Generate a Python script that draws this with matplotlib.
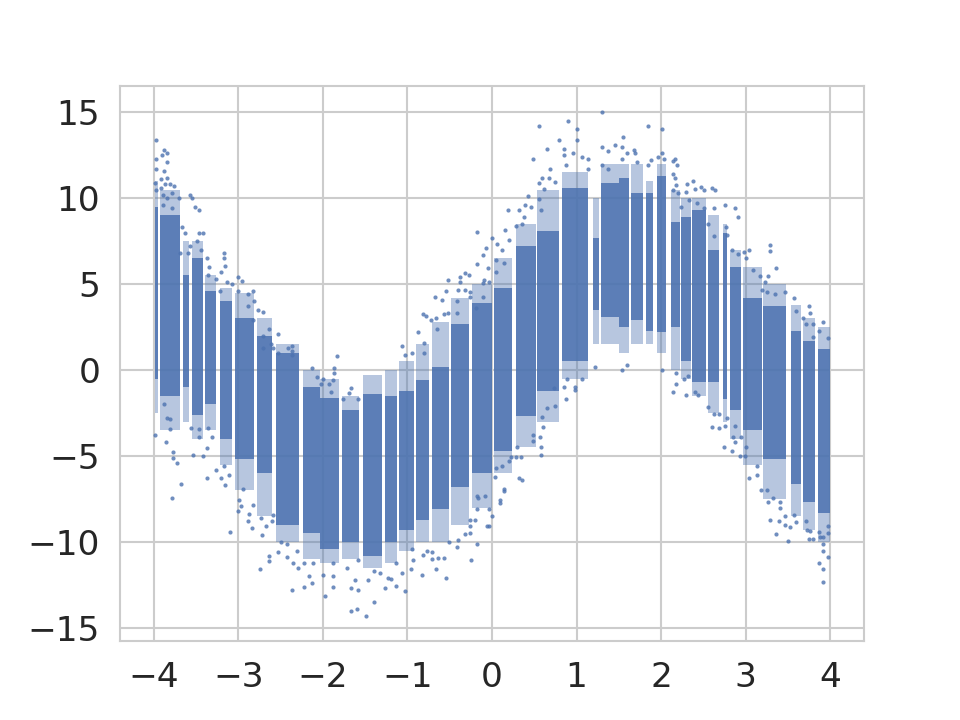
import matplotlib
matplotlib.use("Agg")
import matplotlib.pyplot as plt
import seaborn as sns

# dense vertical bands, too packed to read dot by dot: x extent and y extent of each
band_left = [-3.99, -3.93, -3.66, -3.55, -3.40, -3.22, -3.04, -2.78, -2.55, -2.24, -2.04, -1.77, -1.53, -1.27, -1.10, -0.90, -0.71, -0.48, -0.24, 0.02, 0.28, 0.53, 0.83, 1.20, 1.29, 1.50, 1.64, 1.82, 1.95, 2.12, 2.24, 2.36, 2.56, 2.73, 2.82, 2.97, 3.21, 3.54, 3.68, 3.86]
band_right = [-3.95, -3.69, -3.58, -3.42, -3.26, -3.07, -2.81, -2.60, -2.28, -2.04, -1.81, -1.57, -1.30, -1.12, -0.92, -0.74, -0.51, -0.27, 0.00, 0.24, 0.52, 0.79, 1.14, 1.26, 1.50, 1.62, 1.79, 1.91, 2.06, 2.22, 2.35, 2.53, 2.68, 2.78, 2.95, 3.19, 3.48, 3.65, 3.82, 4.00]
band_low = [-0.5, -1.5, -1.0, -2.6, -2.0, -4.0, -5.2, -6.0, -9.0, -9.5, -10.4, -10.0, -10.8, -10.0, -9.3, -8.7, -8.1, -6.8, -6.0, -4.7, -2.7, -1.2, 0.5, 3.5, 3.1, 2.5, 2.9, 2.3, 2.2, 2.5, 0.5, -0.7, -0.7, -1.7, -2.3, -3.5, -5.2, -6.6, -7.7, -8.3]
band_high = [9.5, 9.0, 5.5, 6.5, 4.6, 4.0, 3.0, 2.0, 1.0, -1.0, -1.6, -2.3, -1.4, -1.5, -1.2, -0.6, 0.2, 2.7, 3.9, 4.8, 7.2, 8.1, 10.6, 7.7, 10.9, 11.2, 10.3, 10.3, 11.3, 8.6, 8.9, 9.3, 7.0, 8.0, 6.0, 4.2, 3.7, 2.3, 1.7, 1.2]

# thinner cloud round each band, up to where the dots stop being continuous
cloud_low = [-2.5, -3.5, -3.0, -4.0, -3.5, -5.5, -7.0, -8.5, -10.0, -11.0, -11.2, -11.0, -11.5, -11.2, -10.5, -10.0, -10.0, -9.0, -8.0, -6.0, -4.5, -3.0, -0.5, 1.5, 1.5, 1.0, 1.5, 1.5, 1.0, 0.0, -0.5, -1.5, -2.5, -3.0, -4.0, -5.5, -7.5, -8.5, -9.3, -10.0]
cloud_high = [11.0, 10.5, 7.5, 7.5, 5.5, 4.8, 4.5, 3.0, 1.5, 0.0, -0.5, -1.5, -0.3, 0.0, 0.5, 1.5, 2.8, 4.2, 5.0, 6.5, 8.5, 10.5, 11.5, 10.0, 12.0, 12.0, 12.0, 11.0, 12.0, 10.5, 10.0, 10.0, 9.0, 8.5, 7.0, 6.0, 5.0, 3.8, 3.0, 2.5]

# single dots on the fringes
dots_x = [-3.97, -3.88, -3.85, -3.90, -3.84, -3.97, -3.97, -3.88, -3.91, -3.84, -3.99, -3.98, -3.91, -3.87, -3.81, -3.76, -3.89, -3.79, -3.70, -3.85, -3.57, -3.55, -3.51, -3.46, -3.78, -3.89, -3.67, -3.63, -3.46, -3.42, -3.57, -3.49, -3.44, -3.69, -3.59, -3.37, -3.17, -3.17, -3.16, -3.21, -3.35, -3.36, -3.26, -3.00, -2.96, -3.14, -3.08, -2.83, -2.89, -3.00, -3.22, -2.82, -2.77, -2.71, -2.89, -2.83, -2.64, -2.53, -2.71, -2.61, -2.41, -2.36, -2.36, -2.36, -1.83, -2.53, -2.59, -2.71,
          -3.99, -3.86, -3.81, -3.85, -3.81, -3.88, -3.77, -3.77, -3.72, -3.68, -3.79, -3.54, -3.42, -3.37, -3.37, -3.26, -3.47, -3.46, -3.56, -3.36, -3.31, -3.21, -3.16, -3.10, -3.17, -3.11, -3.00, -2.99, -2.97, -2.95, -2.89, -2.84, -2.87, -2.83, -2.73, -2.72, -2.67, -2.60, -2.59, -2.75, -2.64, -2.64, -2.53, -2.43, -2.37, -2.50, -2.43, -2.35, -2.30, -2.31, -2.22, -2.13, -2.17, -2.22, -2.12, -2.00, -1.97, -1.88, -1.88, -1.67, -1.58, -1.62, -1.67, -1.60, -1.49, -1.71, -1.59, -1.88, -1.47,
          -2.13, -1.87, -2.07, -2.00, -1.87, -2.02, -1.93, -1.88, -1.91, -1.67, -1.69, -1.76, -1.59,
          1.30, 0.90, 0.56, 1.00, 1.00, 0.79, 0.65, 0.85, 0.85, 1.30, 1.37, 1.45, 0.48, 0.96, 1.07, 1.13, 1.14, 0.88, 1.30, 1.37, 0.69, 0.59, 0.56, 0.67, 0.75, 0.62, 0.42, 0.55, 0.19, 0.32, 0.39, 0.46, 0.38, 0.58, -0.18, 0.00, 0.15, 0.28, 0.36, -0.07, -0.11, -0.18, -0.05, 0.06, 0.12, 0.20, 0.05, 0.14, 0.05, -0.32, -0.27, -0.38, -0.52, -0.38, -0.09, -0.04, -0.11, -0.55, -0.40, -0.32, -0.26, -0.68, -0.59, -0.41, -0.26, -0.11, -0.82, -0.78, -0.72, -0.66, -0.57, -0.52, -0.41, -0.19, -0.87, -0.65, -1.07, -0.95, -1.03, -0.80, -0.80,
          0.32, 0.35, 0.14, 0.14, 0.10, 0.10, 0.04, -0.08, -0.18, -0.17, -0.04, 0.00, -0.06, -0.04, -0.18, -0.20, -0.26, -0.26, -0.26, -0.32, -0.18, -0.25, -0.41, -0.40, -0.51, -0.57, -0.64, -0.71, -0.71, -0.77, -0.82, -0.66, -0.55, -0.83, -0.96, -1.06, -1.03, -1.26, -1.14, -1.23, -1.20, -1.40, -1.39, -1.33, -1.14, -0.94, -0.95, 0.34, 0.28, 0.22, 0.20, 0.12, 0.05, 0.58, 0.58, 0.57, 0.60, 0.59, 0.48, 0.48, 0.30, 0.88, 0.98, 1.07, 0.98, 0.75, 0.65, 0.73, 1.22, 0.85, 0.89,
          1.85, 2.01, 1.55, 1.54, 1.60, 1.68, 1.69, 1.54, 1.71, 1.88, 1.85, 1.96, 2.01, 2.04, 2.17, 2.14, 2.19, 2.14, 2.17, 2.18, 2.14, 2.20, 2.31, 2.38, 2.40, 2.47, 2.51, 2.60, 2.64, 2.30, 2.33, 2.62, 2.76, 2.88, 2.91, 2.51, 2.24, 2.42, 2.56, 2.77, 2.78, 2.63, 3.29, 3.29, 3.36, 3.04, 2.98, 2.91, 2.84, 3.01, 3.09, 3.17, 3.27, 3.23, 3.46, 3.57, 3.19, 3.25, 3.35, 3.75, 3.76, 3.68, 3.59, 3.92, 3.80, 3.87, 3.98, 3.80, 3.71,
          1.60, 1.54, 2.01, 2.18, 2.18, 2.27, 2.32, 2.14, 2.30, 2.40, 2.44, 2.56, 2.63, 2.69, 2.60, 2.69, 2.75, 2.78, 2.88, 2.85, 2.88, 2.94, 2.74, 2.84, 3.00, 2.93, 2.99, 3.04, 3.14, 3.14, 3.18, 3.25, 3.27, 3.32, 3.41, 3.41, 3.29, 3.39, 3.46, 3.46, 3.53, 3.57, 3.60, 3.36, 3.50, 3.71, 3.72, 3.76, 3.75, 3.80, 3.87, 3.88, 3.92, 3.92, 3.92, 3.98, 3.87, 3.92, 3.92, 3.98, 3.98]
dots_y = [13.4, 12.8, 12.6, 12.5, 12.1, 12.3, 11.7, 11.6, 11.1, 11.2, 10.9, 10.5, 10.6, 10.8, 10.8, 10.7, 10.2, 10.3, 10.0, 10.0, 10.2, 10.0, 9.5, 9.3, 9.4, 9.6, 8.3, 8.0, 8.0, 8.0, 7.2, 7.5, 6.97, 6.8, 6.8, 6.5, 6.8, 6.5, 6.05, 5.7, 6.0, 5.5, 5.3, 5.4, 5.2, 5.1, 5.0, 4.6, 4.4, 4.6, 4.6, 4.0, 3.5, 3.4, 3.7, 2.9, 2.4, 2.1, 2.0, 1.5, 1.3, 1.4, 1.1, 0.9, 0.8, 1.0, 1.3, 1.3,
          -3.8, -4.2, -3.45, -2.8, -2.85, -1.95, -4.75, -5.1, -5.4, -6.6, -7.45, -4.95, -5.0, -4.55, -6.3, -5.8, -3.9, -3.45, -3.4, -3.4, -3.9, -6.3, -6.7, -9.4, -5.6, -6.1, -8.2, -7.55, -7.9, -6.9, -8.8, -9.2, -8.4, -7.85, -8.6, -9.6, -9.1, -8.8, -8.45, -11.6, -10.8, -11.1, -10.6, -10.85, -12.8, -10.0, -10.1, -11.25, -11.5, -10.5, -12.6, -12.4, -12.0, -11.25, -11.25, -11.9, -13.15, -12.6, -12.0, -12.7, -12.8, -12.2, -14.0, -13.9, -14.3, -11.5, -11.05, -11.25, -12.2,
          0.1, 0.1, -0.4, -0.5, -0.2, -0.8, -0.8, -0.6, -1.25, -1.05, -1.35, -1.7, -1.7,
          15.0, 14.5, 14.2, 14.0, 13.4, 13.4, 12.85, 12.85, 12.5, 13.0, 12.75, 13.1, 12.3, 12.6, 12.4, 12.3, 11.7, 11.9, 11.9, 11.7, 11.7, 11.2, 10.9, 11.2, 10.95, 10.55, 10.1, 9.95, 9.3, 9.3, 9.6, 9.5, 8.9, 9.3, 8.05, 7.7, 8.15, 8.4, 8.5, 7.1, 6.7, 6.15, 5.95, 7.35, 7.0, 7.55, 6.4, 6.2, 5.7, 5.65, 5.55, 5.4, 5.25, 5.1, 5.25, 5.15, 5.05, 4.6, 4.65, 4.65, 4.55, 4.25, 4.05, 4.0, 4.25, 4.25, 3.25, 3.15, 2.9, 3.0, 3.25, 3.3, 3.3, 3.6, 2.2, 2.4, 1.4, 0.99, 0.9, 1.6, 1.0,
          -6.3, -6.4, -6.9, -7.05, -7.55, -7.75, -6.25, -7.3, -7.3, -7.45, -8.1, -8.5, -9.1, -9.1, -8.1, -8.75, -8.75, -9.05, -9.5, -9.55, -10.1, -11.05, -10.3, -9.9, -10.0, -10.95, -10.95, -11.0, -10.6, -10.5, -10.75, -11.6, -12.1, -11.9, -11.55, -11.8, -12.85, -12.7, -12.55, -12.1, -12.15, -13.5, -11.7, -11.8, -11.2, -11.05, -10.4, -5.05, -5.05, -5.05, -5.3, -5.6, -5.7, -4.95, -4.5, -3.9, -3.3, -2.75, -4.15, -3.8, -4.5, -1.7, -1.15, -0.5, -1.0, -2.1, -2.2, -1.05, 0.15, -1.0, -0.5,
          14.2, 14.0, 13.55, 12.95, 12.6, 12.8, 12.6, 12.3, 12.1, 12.2, 11.9, 12.4, 12.6, 12.3, 12.3, 12.15, 11.9, 11.4, 11.2, 10.75, 10.5, 10.3, 10.85, 11.0, 10.55, 10.65, 10.5, 10.6, 10.5, 10.35, 9.9, 9.45, 9.6, 9.45, 8.9, 9.45, 9.5, 9.7, 8.5, 8.35, 7.85, 7.8, 7.3, 6.95, 5.95, 7.0, 6.85, 6.75, 7.0, 6.5, 5.8, 5.45, 5.45, 5.1, 4.55, 4.2, 4.65, 4.55, 4.45, 3.7, 3.3, 3.0, 3.45, 2.8, 2.7, 2.3, 1.85, 1.95, 2.65,
          0.3, 0.0, 0.0, -0.15, -0.8, -0.5, -0.35, -1.25, -1.45, -1.25, -1.45, -2.15, -2.55, -2.55, -3.3, -3.4, -3.25, -2.8, -3.25, -3.9, -4.2, -3.9, -4.45, -4.7, -4.5, -5.0, -5.0, -6.3, -6.1, -5.6, -6.95, -6.95, -7.65, -7.45, -7.65, -8.05, -8.7, -8.8, -8.5, -9.0, -9.15, -8.45, -8.85, -9.55, -9.95, -8.8, -9.3, -9.35, -9.8, -9.8, -9.4, -9.7, -9.7, -10.1, -10.55, -10.85, -11.2, -11.6, -12.35, -9.5, -9.1]

x_ticks = [-4, -3, -2, -1, 0, 1, 2, 3, 4]
y_ticks = [-15, -10, -5, 0, 5, 10, 15]

sns.set_theme(style="whitegrid", font_scale=1.5)
plt.rcParams["font.family"] = ["DejaVu Sans"]

fig, ax = plt.subplots(figsize=(6.4, 4.8), dpi=150)
fig.subplots_adjust(left=0.125, right=0.9, top=0.88, bottom=0.11)

widths = [r - l for l, r in zip(band_left, band_right)]
heights = [h - l for l, h in zip(band_low, band_high)]
cloud_heights = [h - l for l, h in zip(cloud_low, cloud_high)]
ax.bar(band_left, cloud_heights, width=widths, bottom=cloud_low, align="edge",
       color="#4c72b0", alpha=0.4, linewidth=0, zorder=2)
ax.bar(band_left, heights, width=widths, bottom=band_low, align="edge",
       color="#4c72b0", alpha=0.85, linewidth=0, zorder=2)
ax.scatter(dots_x, dots_y, s=4, color="#4c72b0", alpha=0.8, linewidths=0, zorder=3)

ax.set_xlim(-4.4, 4.4)
ax.set_ylim(-15.75, 16.5)
ax.set_xticks(x_ticks)
ax.set_yticks(y_ticks)
ax.grid(True, linewidth=1, color=".8")
ax.set_axisbelow(True)
for s in ax.spines.values():
    s.set_linewidth(1)

fig.savefig("out.png", dpi=150)
